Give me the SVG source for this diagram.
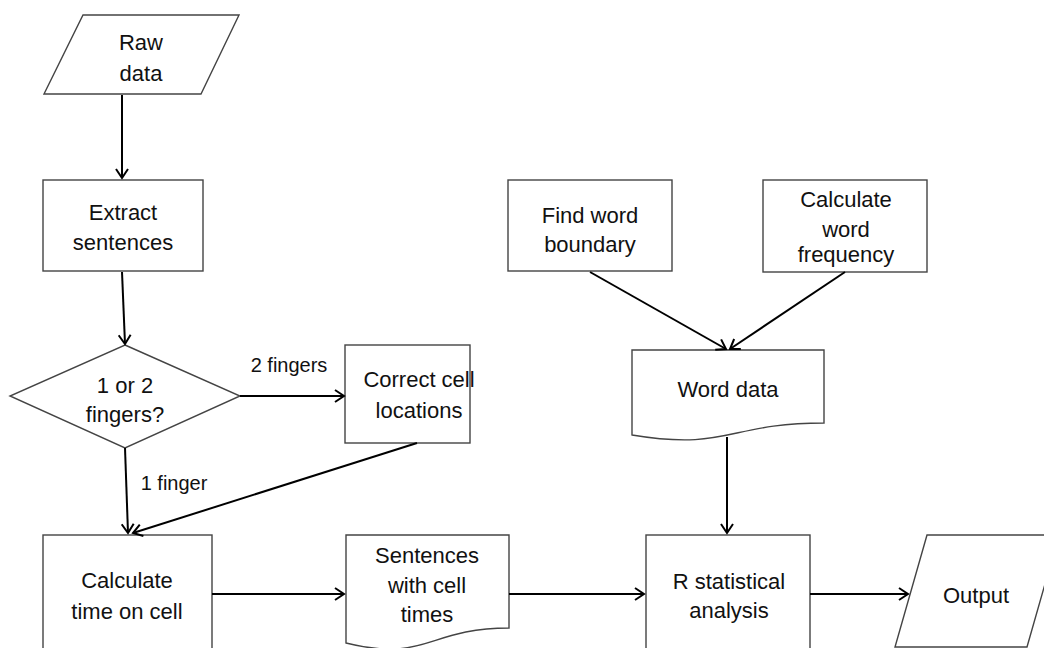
<svg xmlns="http://www.w3.org/2000/svg" width="1044" height="648" viewBox="0 0 1044 648">
<style>
.s{fill:#fff;stroke:#444;stroke-width:1.4}
.t{font-family:"Liberation Sans",Arial,sans-serif;font-size:22px;fill:#111;text-anchor:middle}
.l{font-family:"Liberation Sans",Arial,sans-serif;font-size:20px;fill:#111;text-anchor:middle}
.c{fill:none;stroke:#000;stroke-width:2;marker-end:url(#a)}
</style>
<defs>
<marker id="a" markerWidth="14" markerHeight="14" refX="11" refY="7" orient="auto" markerUnits="userSpaceOnUse">
<path d="M2,1 L11,7 L2,13" fill="none" stroke="#000" stroke-width="2"/>
</marker>
</defs>
<rect width="1044" height="648" fill="#fff"/>
<g id="raw-data">
<polygon class="s" points="83,15 239,15 201,94 44,94"/>
<text class="t" x="141" y="50">Raw</text>
<text class="t" x="141" y="81">data</text>
</g>
<g id="extract-sentences">
<rect class="s" x="43" y="180" width="160" height="91"/>
<text class="t" x="123" y="220">Extract</text>
<text class="t" x="123" y="250">sentences</text>
</g>
<g id="decision">
<polygon class="s" points="125,345 240,396 125,448 10,396"/>
<text class="t" x="125" y="393">1 or 2</text>
<text class="t" x="125" y="422">fingers?</text>
</g>
<g id="correct-cell">
<rect class="s" x="345" y="345" width="125" height="98"/>
<text class="t" x="419" y="387">Correct cell</text>
<text class="t" x="419" y="418">locations</text>
</g>
<g id="calculate-time">
<rect class="s" x="43" y="535" width="169" height="125"/>
<text class="t" x="127" y="588">Calculate</text>
<text class="t" x="127" y="619">time on cell</text>
</g>
<g id="sentences-times">
<path class="s" d="M346,535 H509 V628 C427,628 427,663 346,643 Z"/>
<text class="t" x="427" y="563">Sentences</text>
<text class="t" x="427" y="593">with cell</text>
<text class="t" x="427" y="622">times</text>
</g>
<g id="r-analysis">
<rect class="s" x="646" y="535" width="164" height="125"/>
<text class="t" x="729" y="589">R statistical</text>
<text class="t" x="729" y="618">analysis</text>
</g>
<g id="output">
<polygon class="s" points="927,535 1059,535 1027,647 895,647"/>
<text class="t" x="976" y="603">Output</text>
</g>
<g id="find-word">
<rect class="s" x="508" y="180" width="164" height="91"/>
<text class="t" x="590" y="223">Find word</text>
<text class="t" x="590" y="252">boundary</text>
</g>
<g id="word-frequency">
<rect class="s" x="763" y="180" width="164" height="92"/>
<text class="t" x="846" y="207">Calculate</text>
<text class="t" x="846" y="237">word</text>
<text class="t" x="846" y="262">frequency</text>
</g>
<g id="word-data">
<path class="s" d="M632,350 H824 V423 C728,423 728,451 632,435 Z"/>
<text class="t" x="728" y="397">Word data</text>
</g>
<g id="connectors">
<path class="c" d="M122,95 L122,178"/>
<path class="c" d="M122,272 L125,344"/>
<path class="c" d="M240,396 L344,396"/>
<path class="c" d="M125,448 L128,533"/>
<path class="c" d="M417,443 L133,533"/>
<path class="c" d="M212,594 L344,594"/>
<path class="c" d="M509,594 L644,594"/>
<path class="c" d="M810,594 L908,594"/>
<path class="c" d="M590,272 L726,349"/>
<path class="c" d="M845,272 L730,349"/>
<path class="c" d="M727,437 L727,533"/>
<text class="l" x="289" y="372">2 fingers</text>
<text class="l" x="174" y="490">1 finger</text>
</g>
</svg>
